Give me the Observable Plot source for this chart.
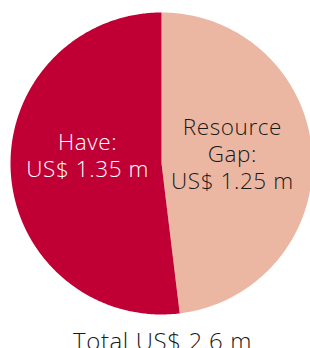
<!DOCTYPE html>
<html><head><meta charset="utf-8">
<script src="https://cdn.jsdelivr.net/npm/d3@7"></script>
<script src="https://cdn.jsdelivr.net/npm/@observablehq/plot@0.6"></script>
<style>body{margin:0;background:#fff;overflow:hidden;} svg text{letter-spacing:0.6px;}</style>
</head><body><div id="chart"></div>
<script>
const categories = ["Resource Gap", "Have"];
const values = [1.25, 1.35];
const labels = ["Resource\nGap:\nUS$ 1.25 m", "Have:\nUS$ 1.35 m"];
const colors = ["#EBB7A3", "#C00034"];
const labelColors = ["#1a1a1a", "#ffffff"];
const totalLabel = "Total US$ 2.6 m";

const table = categories.map((c, i) => ({category: c, value: values[i], label: labels[i], ink: labelColors[i]}));
const arcs = d3.pie().sort(null).value(d => d.value)(table);

const pts = [];
arcs.forEach(a => {
  const n = Math.max(2, Math.ceil((a.endAngle - a.startAngle) / 0.01));
  pts.push({category: a.data.category, x: 0, y: 0});
  for (let k = 0; k <= n; k++) {
    const t = a.startAngle + (a.endAngle - a.startAngle) * k / n;
    pts.push({category: a.data.category, x: Math.sin(t), y: Math.cos(t)});
  }
});
const labelR = 0.49;
const labelPts = arcs.map(a => {
  const m = (a.startAngle + a.endAngle) / 2;
  return {...a.data, x: labelR * Math.sin(m), y: labelR * Math.cos(m)};
});

const font = "'Open Sans', sans-serif";
const chart = Plot.plot({
  width: 310,
  height: 348,
  margin: 0,
  style: {fontFamily: font, background: "#fff", overflow: "hidden"},
  x: {domain: [-1, 1], range: [10, 312], axis: null},
  y: {domain: [-1, 1], range: [314, 12], axis: null},
  color: {domain: categories, range: colors},
  marks: [
    Plot.line(pts, {x: "x", y: "y", z: "category", fill: "category", stroke: "none", curve: "linear"}),
    Plot.text(labelPts.filter(d => d.category === "Have"), {x: "x", y: "y", text: "label", fill: "ink", fontSize: 22.5, fontWeight: 300, lineHeight: 1.2, lineAnchor: "middle", dy: -13, dx: 0}),
    Plot.text(labelPts.filter(d => d.category === "Resource Gap"), {x: "x", y: "y", text: "label", fill: "ink", fontSize: 22.5, fontWeight: 300, lineHeight: 1.2, lineAnchor: "middle", dy: -6, dx: -3}),
    Plot.text([totalLabel], {x: () => 0, text: d => d, frameAnchor: "bottom", lineAnchor: "bottom", fill: "#1a1a1a", fontSize: 24, fontWeight: 300, dx: 1, dy: 1.5})
  ]
});
document.getElementById("chart").append(chart);
</script>
</body></html>
